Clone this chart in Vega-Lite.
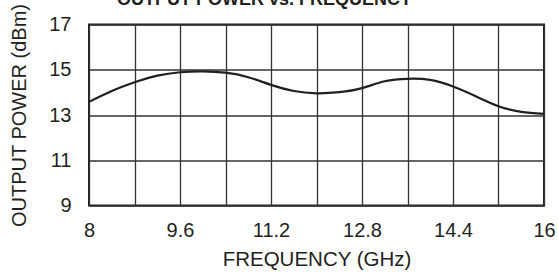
{
  "$schema": "https://vega.github.io/schema/vega-lite/v6.json",
  "autosize": "none",
  "width": 455,
  "height": 181,
  "padding": {"left": 89, "top": 24.5, "right": 14, "bottom": 72.5},
  "background": "white",
  "config": {
    "view": {"stroke": "#231f20", "strokeWidth": 2},
    "font": "Liberation Sans"
  },
  "title": {
    "text": "OUTPUT POWER vs. FREQUENCY",
    "anchor": "start",
    "frame": "group",
    "dx": 28,
    "dy": 26,
    "offset": 6,
    "baseline": "alphabetic",
    "fontSize": 18,
    "fontWeight": "bold",
    "color": "#231f20",
    "font": "Liberation Sans"
  },
  "data": {
    "values": [
      {"f": 8.0, "p": 13.58},
      {"f": 8.4, "p": 14.06},
      {"f": 8.8, "p": 14.45},
      {"f": 9.2, "p": 14.74},
      {"f": 9.6, "p": 14.89},
      {"f": 10.0, "p": 14.93},
      {"f": 10.4, "p": 14.87},
      {"f": 10.8, "p": 14.67},
      {"f": 11.2, "p": 14.33},
      {"f": 11.6, "p": 14.06},
      {"f": 12.0, "p": 13.96},
      {"f": 12.4, "p": 14.01},
      {"f": 12.8, "p": 14.19},
      {"f": 13.2, "p": 14.49},
      {"f": 13.6, "p": 14.6},
      {"f": 14.0, "p": 14.55},
      {"f": 14.4, "p": 14.26},
      {"f": 14.8, "p": 13.83},
      {"f": 15.2, "p": 13.39},
      {"f": 15.6, "p": 13.14},
      {"f": 16.0, "p": 13.05}
    ]
  },
  "mark": {"type": "line", "interpolate": "natural", "color": "#231f20", "strokeWidth": 2.2, "clip": true},
  "encoding": {
    "x": {
      "field": "f",
      "type": "quantitative",
      "scale": {"domain": [8, 16], "nice": false, "zero": false},
      "axis": {
        "values": [8, 8.8, 9.6, 10.4, 11.2, 12, 12.8, 13.6, 14.4, 15.2, 16],
        "format": ".1~f",
        "labelExpr": "round(datum.value*10) % 16 == 0 ? datum.label : ''",
        "grid": true,
        "gridColor": "#333333",
        "gridWidth": 1.3,
        "gridOpacity": 1,
        "domain": false,
        "ticks": false,
        "labelPadding": 31,
        "labelBaseline": "alphabetic",
        "labelFontSize": 20,
        "labelColor": "#231f20",
        "labelFont": "Liberation Sans",
        "labelOverlap": false,
        "labelFlush": false,
        "title": "FREQUENCY (GHz)",
        "titleFontSize": 20.5,
        "titleFontWeight": "normal",
        "titleColor": "#231f20",
        "titleFont": "Liberation Sans",
        "titleBaseline": "alphabetic",
        "titleY": 60,
        "titleX": 227.5
      }
    },
    "y": {
      "field": "p",
      "type": "quantitative",
      "scale": {"domain": [9, 17], "nice": false, "zero": false},
      "axis": {
        "values": [9, 11, 13, 15, 17],
        "grid": true,
        "gridColor": "#333333",
        "gridWidth": 1.3,
        "gridOpacity": 1,
        "domain": false,
        "ticks": false,
        "labelPadding": 18,
        "labelBaseline": "middle",
        "labelFontSize": 20,
        "labelColor": "#231f20",
        "labelFont": "Liberation Sans",
        "labelOverlap": false,
        "labelFlush": false,
        "title": "OUTPUT POWER (dBm)",
        "titleFontSize": 20,
        "titleFontWeight": "normal",
        "titleColor": "#231f20",
        "titleFont": "Liberation Sans",
        "titleAngle": -90,
        "titleAlign": "center",
        "titleBaseline": "alphabetic",
        "titleX": -64,
        "titleY": 90.5
      }
    }
  }
}
